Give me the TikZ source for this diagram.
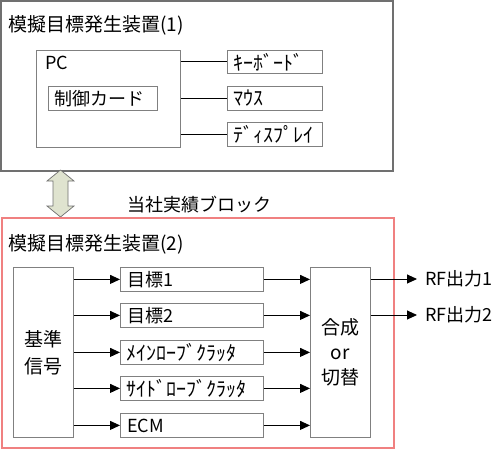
\documentclass[tikz,border=0pt]{standalone}
\usepackage{fontspec}
\setmainfont{Noto Sans CJK JP}
\usetikzlibrary{arrows.meta}
\definecolor{boxgray}{HTML}{808080}
\definecolor{framegray}{HTML}{707070}
\definecolor{framered}{HTML}{F08080}
\definecolor{khaki}{HTML}{DFE3CF}
\begin{document}
\begin{tikzpicture}[x=1pt,y=-1pt,
    blk/.style={draw=boxgray,line width=0.8pt,inner sep=0pt,anchor=north west},
    lbl/.style={inner sep=0pt,font=\fontsize{18}{20}\selectfont},
    half/.style={inner sep=0pt,font=\fontsize{20}{22}\selectfont},
    sig/.style={-{Triangle[length=10pt,width=9pt]},line width=0.9pt}]
    \useasboundingbox (0,0) rectangle (500,450);

    % upper unit
    \draw[framegray,line width=1.5pt] (1,1) rectangle (393,171);
    \node[lbl,anchor=west,font=\fontsize{19}{21}\selectfont] (title1) at (8,25) {模擬目標発生装置(1)};

    \node[blk,minimum width=144pt,minimum height=97pt] (pc) at (36,50) {};
    \node[lbl,anchor=west] (pclabel) at (45,63) {PC};
    \node[blk,minimum width=109pt,minimum height=24pt] (card) at (48,86) {};
    \node[lbl,anchor=west] at (card.west) [xshift=6pt] {制御カード};

    \node[blk,minimum width=95pt,minimum height=23pt] (kb) at (227,50) {};
    \node[half,anchor=west] at (kb.west) [xshift=6pt] {ｷｰﾎﾞｰﾄﾞ};
    \node[blk,minimum width=95pt,minimum height=24pt] (mouse) at (227,86) {};
    \node[half,anchor=west] at (mouse.west) [xshift=6pt] {ﾏｳｽ};
    \node[blk,minimum width=95pt,minimum height=24pt] (disp) at (227,122) {};
    \node[half,anchor=west] at (disp.west) [xshift=6pt] {ﾃﾞｨｽﾌﾟﾚｲ};

    \draw[line width=0.9pt] (pc.east |- kb.west) -- (kb.west);
    \draw[line width=0.9pt] (pc.east |- mouse.west) -- (mouse.west);
    \draw[line width=0.9pt] (pc.east |- disp.west) -- (disp.west);

    % link between the two units
    \draw[framegray,fill=khaki,line width=0.7pt,line join=miter]
      (60.5,170) -- (74,181) -- (68,181) -- (68,206) -- (74,206) -- (60.5,217)
      -- (47,206) -- (53,206) -- (53,181) -- (47,181) -- cycle;
    \node[lbl,anchor=west] (ours) at (127,205) {当社実績ブロック};

    % lower unit
    \draw[framered,line width=1.2pt] (2,218) rectangle (394,448);
    \node[lbl,anchor=west,font=\fontsize{19}{21}\selectfont] (title2) at (8,244) {模擬目標発生装置(2)};

    \node[blk,minimum width=60pt,minimum height=170pt] (ref) at (13,267) {};
    \node[lbl,align=center,font=\fontsize{19}{27}\selectfont] at (ref.center) {基準\\信号};

    \node[blk,minimum width=143pt,minimum height=24pt] (t1) at (120,267) {};
    \node[lbl,anchor=west] at (t1.west) [xshift=7pt] {目標1};
    \node[blk,minimum width=143pt,minimum height=24pt] (t2) at (120,303) {};
    \node[lbl,anchor=west] at (t2.west) [xshift=7pt] {目標2};
    \node[blk,minimum width=143pt,minimum height=24pt] (main) at (120,340) {};
    \node[half,anchor=west] at (main.west) [xshift=6pt] {ﾒｲﾝﾛｰﾌﾞｸﾗｯﾀ};
    \node[blk,minimum width=143pt,minimum height=24pt] (side) at (120,376) {};
    \node[half,anchor=west] at (side.west) [xshift=6pt] {ｻｲﾄﾞﾛｰﾌﾞｸﾗｯﾀ};
    \node[blk,minimum width=143pt,minimum height=24pt] (ecm) at (120,413) {};
    \node[lbl,anchor=west] at (ecm.west) [xshift=7pt] {ECM};

    \node[blk,minimum width=60pt,minimum height=170pt] (mix) at (310,267) {};
    \node[lbl,align=center,font=\fontsize{19}{25}\selectfont] at (mix.center) {合成\\or\\切替};

    \foreach \b in {t1,t2,main,side,ecm} {
      \draw[sig] (ref.east |- \b.west) -- (\b.west);
      \draw[sig] (\b.east) -- (mix.west |- \b.east);
    }

    \coordinate (out1) at (417,279);
    \coordinate (out2) at (417,315);
    \draw[sig] (mix.east |- out1) -- (out1);
    \draw[sig] (mix.east |- out2) -- (out2);
    \node[lbl,anchor=west] (rf1) at (425,279) {RF出力1};
    \node[lbl,anchor=west] (rf2) at (425,315) {RF出力2};
\end{tikzpicture}
\end{document}
